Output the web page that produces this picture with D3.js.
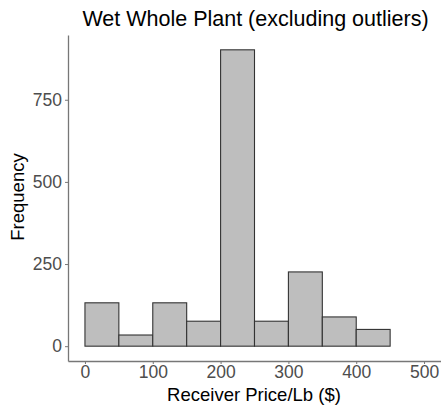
<!DOCTYPE html>
<html>
<head>
<meta charset="utf-8">
<script src="https://cdn.jsdelivr.net/npm/d3@7"></script>
<style>
  body { margin: 0; background: #fff; }
  svg { display: block; font-family: "Liberation Sans", Arial, sans-serif; }
</style>
</head>
<body>
<svg id="chart" width="441" height="408"></svg>
<script>
// Histogram bins (lower edges, $ per lb) and their counts
const binStarts = [0, 50, 100, 150, 200, 250, 300, 350, 400];
const binWidth = 50;
const counts = [132, 34, 132, 76, 902, 76, 226, 89, 51];
const xTicks = [0, 100, 200, 300, 400, 500];
const yTicks = [0, 250, 500, 750];

const title = "Wet Whole Plant (excluding outliers)";
const xTitle = "Receiver Price/Lb ($)";
const yTitle = "Frequency";

const svg = d3.select("#chart");
const plotLeft = 68, plotRight = 441, plotTop = 35, plotBottom = 361;

const x = d3.scaleLinear().domain([-25, 525]).range([plotLeft, plotRight]);
const yMax = d3.max(counts) * 1.05;
const y = d3.scaleLinear().domain([-yMax / 21, yMax]).range([plotBottom, plotTop]);

// bars
svg.append("g").selectAll("rect")
  .data(binStarts.map((s, i) => ({ s, c: counts[i] })))
  .join("rect")
  .attr("x", d => x(d.s))
  .attr("width", d => x(d.s + binWidth) - x(d.s))
  .attr("y", d => y(d.c))
  .attr("height", d => y(0) - y(d.c))
  .attr("fill", "#bebebe")
  .attr("stroke", "#333")
  .attr("stroke-width", 1.1);

// x axis
const xAxis = svg.append("g")
  .attr("transform", `translate(0,${plotBottom})`)
  .call(d3.axisBottom(x).tickValues(xTicks).tickSize(3).tickPadding(2).tickSizeOuter(0));
// y axis
const yAxis = svg.append("g")
  .attr("transform", `translate(${plotLeft},0)`)
  .call(d3.axisLeft(y).tickValues(yTicks).tickSize(3).tickPadding(3).tickSizeOuter(0));

[xAxis, yAxis].forEach(a => {
  a.select(".domain").attr("stroke", "#777").attr("stroke-width", 1.3);
  a.selectAll(".tick line").attr("stroke", "#777");
  a.selectAll(".tick text").attr("fill", "#4d4d4d").style("font-size", "17.5px")
    .style("font-family", "'Liberation Sans', Arial, sans-serif");
});

svg.append("text")
  .attr("x", 255.5).attr("y", 26)
  .attr("text-anchor", "middle")
  .style("font-size", "21.5px")
  .attr("fill", "#000")
  .text(title);

svg.append("text")
  .attr("x", 254).attr("y", 401)
  .attr("text-anchor", "middle")
  .style("font-size", "18.5px")
  .attr("fill", "#000")
  .text(xTitle);

svg.append("text")
  .attr("transform", `translate(24,197) rotate(-90)`)
  .attr("text-anchor", "middle")
  .style("font-size", "18.5px")
  .attr("fill", "#000")
  .text(yTitle);
</script>
</body>
</html>
